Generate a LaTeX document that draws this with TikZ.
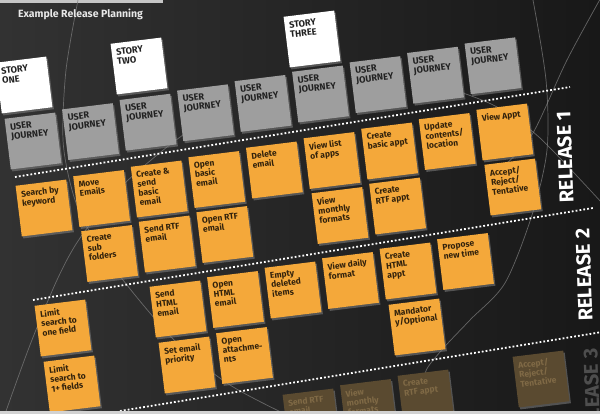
\documentclass[tikz,border=0pt]{standalone}
\usepackage{fontspec}
\setmainfont{Fira Sans}
\usetikzlibrary{shadows}
\definecolor{bgL}{RGB}{50,50,50}
\definecolor{bgR}{RGB}{24,24,24}
\definecolor{orng}{RGB}{244,168,58}
\definecolor{ortxt}{RGB}{50,34,12}
\definecolor{gfill}{RGB}{158,158,158}
\definecolor{gtxt}{RGB}{34,34,34}
\definecolor{dimfill}{RGB}{90,74,48}
\definecolor{dimtxt}{RGB}{128,106,70}
\definecolor{faintc}{RGB}{125,125,125}
\definecolor{titlec}{RGB}{232,232,232}
\definecolor{rdim}{RGB}{78,78,78}
\tikzset{
  notebase/.style={rectangle, inner sep=0pt, minimum width=51pt, minimum height=51pt, rotate=7,
    drop shadow={shadow xshift=1.5pt, shadow yshift=-2pt, opacity=0.55}},
  ofill/.style={notebase, fill=orng},
  gfill/.style={notebase, fill=gfill},
  sfill/.style={notebase, fill=white},
  dfill/.style={notebase, fill=dimfill},
  notetext/.style={anchor=north west, rotate=7, inner xsep=4.5pt, inner ysep=5.5pt, align=left,
    font=\fontsize{8.5}{9.4}\selectfont\bfseries},
  otext/.style={notetext, text=ortxt},
  gtext/.style={notetext, text=gtxt, font=\fontsize{9.2}{9.8}\selectfont\bfseries},
  stext/.style={gtext},
  dtext/.style={notetext, text=dimtxt},
  rlabel/.style={text=white, font=\fontsize{20}{20}\selectfont\bfseries, rotate=92, inner sep=0pt},
  rlabeldim/.style={rlabel, text=rdim},
  dotline/.style={draw=white, line width=1.8pt, dash pattern=on 1.8pt off 2.1pt},
  faintline/.style={draw=faintc, line width=0.7pt, opacity=0.75},
}
% #1 kind (o,g,s,d), #2 name, #3 position, #4 text
\newcommand{\stickynote}[4]{%
  \node[#1fill] (#2) at (#3) {};
  \node[#1text] (#2t) at (#2.north west) {#4};
}
\begin{document}
\begin{tikzpicture}[x=1pt,y=-1pt]
\useasboundingbox (0,0) rectangle (600,414);
% background
\shade[left color=bgL, right color=bgR] (0,0) rectangle (600,414);
\fill[gray!45] (0,0) rectangle (163,2.6);
% faint decorative curves
\draw[faintline] plot[smooth] coordinates {(78,0) (66,70) (63,140) (72,190) (87,227) (123,280) (177,343) (230,385) (285,414)};
\draw[faintline] plot[smooth] coordinates {(5,414) (30,345) (57,280) (80,238) (120,188) (167,147) (215,112)};
\draw[faintline] plot[smooth] coordinates {(533,0) (546,80) (547,150) (532,215) (505,283) (470,320) (440,352) (425,375) (440,400) (458,414)};
\draw[faintline] plot[smooth] coordinates {(603,-6) (567,60) (533,133) (505,165)};
\draw[faintline] plot[smooth] coordinates {(460,92) (497,107) (540,138) (602,203)};
% title
\node[anchor=west, text=titlec, font=\fontsize{10.5}{12}\selectfont\bfseries, inner sep=0pt] (title) at (18,14) {Example Release Planning};
% dotted release separators
\coordinate (d1a) at (15,177); \coordinate (d1b) at (570,87);
\coordinate (d2a) at (33,300); \coordinate (d2b) at (593,208);
\coordinate (d3a) at (120,411); \coordinate (d3b) at (602,332);
\draw[dotline] (d1a) -- (d1b);
\draw[dotline] (d2a) -- (d2b);
\draw[dotline] (d3a) -- (d3b);
% stories
\stickynote{s}{s1}{24,85}{STORY\\ONE}
\stickynote{s}{s2}{139,66}{STORY\\TWO}
\stickynote{s}{s3}{312,39}{STORY\\THREE}
% user journeys
\foreach \k in {0,...,8}{
  \stickynote{g}{g\k}{{33+57.5*\k},{141-9.4*\k}}{USER\\JOURNEY}
}
% release 1, row A
\stickynote{o}{a0}{{44+57.6*0},{208-9.5*0}}{Search by\\keyword}
\stickynote{o}{a1}{{44+57.6*1},{208-9.5*1}}{Move\\Emails}
\stickynote{o}{a2}{{44+57.6*2},{208-9.5*2}}{Create \&\\send\\basic\\email}
\stickynote{o}{a3}{{44+57.6*3},{208-9.5*3}}{Open\\basic\\email}
\stickynote{o}{a4}{{44+57.6*4},{208-9.5*4}}{Delete\\email}
\stickynote{o}{a5}{{44+57.6*5},{208-9.5*5}}{View list\\of apps}
\stickynote{o}{a6}{{44+57.6*6},{208-9.5*6}}{Create\\basic appt}
\stickynote{o}{a7}{{44+57.6*7},{208-9.5*7}}{Update\\contents/\\location}
\stickynote{o}{a8}{{44+57.6*8},{208-9.5*8}}{View Appt}
% release 1, row B
\stickynote{o}{b1}{{52+57.6*1},{263-9.5*1}}{Create\\sub\\folders}
\stickynote{o}{b2}{{52+57.6*2},{263-9.5*2}}{Send RTF\\email}
\stickynote{o}{b3}{{52+57.6*3},{263-9.5*3}}{Open RTF\\email}
\stickynote{o}{b5}{{52+57.6*5},{263-9.5*5}}{View\\monthly\\formats}
\stickynote{o}{b6}{{52+57.6*6},{263-9.5*6}}{Create\\RTF appt}
\stickynote{o}{b8}{{52+57.6*8},{263-9.5*8}}{Accept/\\Reject/\\Tentative}
% release 2, row C
\stickynote{o}{c0}{{63+57.5*0},{328-9.5*0}}{Limit\\search to\\one field}
\stickynote{o}{c2}{{63+57.5*2},{328-9.5*2}}{Send\\HTML\\email}
\stickynote{o}{c3}{{63+57.5*3},{328-9.5*3}}{Open\\HTML\\email}
\stickynote{o}{c4}{{63+57.5*4},{328-9.5*4}}{Empty\\deleted\\items}
\stickynote{o}{c5}{{63+57.5*5},{328-9.5*5}}{View daily\\format}
\stickynote{o}{c6}{{63+57.5*6},{328-9.5*6}}{Create\\HTML\\appt}
\stickynote{o}{c7}{{63+57.5*7},{328-9.5*7}}{Propose\\new time}
% release 2, row D
\stickynote{o}{e0}{{72+57.5*0},{384-9.5*0}}{Limit\\search to\\1+ fields}
\stickynote{o}{e2}{{72+57.5*2},{384-9.5*2}}{Set email\\priority}
\stickynote{o}{e3}{{72+57.5*3},{384-9.5*3}}{Open\\attachme-\\nts}
\stickynote{o}{e6}{{72+57.5*6},{384-9.5*6}}{Mandator\\y/Optional}
% release 3 (dim)
\stickynote{d}{f0}{{311+57.5*0},{417-9.5*0}}{Send RTF\\email}
\stickynote{d}{f1}{{311+57.5*1},{417-9.5*1}}{View\\monthly\\formats}
\stickynote{d}{f2}{{311+57.5*2},{417-9.5*2}}{Create\\RTF appt}
\stickynote{d}{f4}{{311+57.5*4},{417-9.5*4}}{Accept/\\Reject/\\Tentative}
% release labels
\node[rlabel] (r1) at (565,157) {RELEASE 1};
\node[rlabel] (r2) at (584,275) {RELEASE 2};
\node[rlabeldim] (r3) at (592,395) {RELEASE 3};
\fill[gray!35] (0,411) rectangle (600,414);
\end{tikzpicture}
\end{document}
